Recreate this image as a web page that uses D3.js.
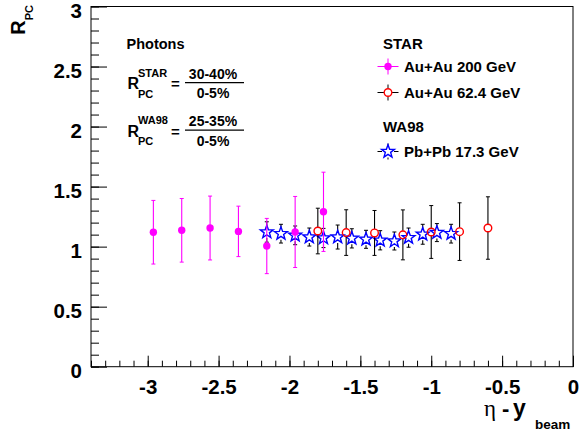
<!DOCTYPE html>
<html>
<head>
<meta charset="utf-8">
<script src="https://cdn.jsdelivr.net/npm/d3@7"></script>
<style>
  body { margin: 0; background: #fff; }
  svg { display: block; }
  text { font-family: "Liberation Sans", Arial, Helvetica, sans-serif; font-weight: bold; fill: #000; }
</style>
</head>
<body>
<svg id="chart" width="581" height="436"></svg>
<script>
// Axis ticks
const xTickValues = [-3, -2.5, -2, -1.5, -1, -0.5, 0];
const yTickValues = [0, 0.5, 1, 1.5, 2, 2.5, 3];

// STAR Au+Au 200 GeV (eta - y_beam, R_PC, stat. error)
const au200X = [-2.96, -2.76, -2.56, -2.36, -2.16, -1.96, -1.76];
const au200Y = [1.12, 1.136, 1.155, 1.127, 1.005, 1.122, 1.29];
const au200E = [0.265, 0.265, 0.266, 0.21, 0.23, 0.296, 0.33];

// STAR Au+Au 62.4 GeV
const au62X = [-1.8, -1.6, -1.4, -1.2, -1.0, -0.8, -0.6];
const au62Y = [1.13, 1.117, 1.114, 1.098, 1.122, 1.125, 1.155];
const au62E = [0.19, 0.19, 0.187, 0.208, 0.22, 0.24, 0.26];

// WA98 Pb+Pb 17.3 GeV
const wa98X = [-2.16, -2.06, -1.96, -1.86, -1.76, -1.66, -1.56, -1.46, -1.36, -1.26, -1.16, -1.06, -0.96, -0.86];
const wa98Y = [1.122, 1.108, 1.094, 1.08, 1.072, 1.08, 1.069, 1.061, 1.053, 1.047, 1.075, 1.103, 1.117, 1.108];
const wa98E = [0.085, 0.078, 0.078, 0.075, 0.08, 0.1, 0.08, 0.075, 0.08, 0.075, 0.08, 0.083, 0.075, 0.078];

const frame = { left: 91, right: 573, top: 6.5, bottom: 366.7 };
const svg = d3.select("#chart");

const x = d3.scaleLinear().domain([-3.4, 0]).range([frame.left, frame.right]);
const y = d3.scaleLinear().domain([0, 3]).range([frame.bottom, frame.top]);

const fmt = d => String(d);

// ---- axes: ticks point inward, minor ticks every 0.1 ----
const gxMinor = svg.append("g").attr("transform", `translate(0,${frame.bottom})`)
  .call(d3.axisBottom(x).tickValues(x.ticks(34)).tickSize(-6).tickFormat(""));
const gx = svg.append("g").attr("transform", `translate(0,${frame.bottom})`)
  .call(d3.axisBottom(x).tickValues(xTickValues).tickSize(-11).tickPadding(12.5).tickFormat(fmt));
const gyMinor = svg.append("g").attr("transform", `translate(${frame.left},0)`)
  .call(d3.axisLeft(y).tickValues(y.ticks(30)).tickSize(-8).tickFormat(""));
const gy = svg.append("g").attr("transform", `translate(${frame.left},0)`)
  .call(d3.axisLeft(y).tickValues(yTickValues).tickSize(-16).tickPadding(9).tickFormat(fmt));

[gxMinor, gx, gyMinor, gy].forEach(g => {
  g.select(".domain").remove();
  g.attr("font-family", null).attr("font-size", null);
  g.selectAll("line").attr("stroke", "#000").attr("stroke-width", 1);
});
gx.selectAll("text").style("font-size", "20.5px");
gy.selectAll("text").style("font-size", "20.5px").attr("dy", "0.52em");

// frame box
svg.append("rect")
  .attr("x", frame.left).attr("y", frame.top)
  .attr("width", frame.right - frame.left).attr("height", frame.bottom - frame.top)
  .attr("fill", "none").attr("stroke", "#000").attr("stroke-width", 1);

// axis titles
const xt = svg.append("text").attr("y", 416);
xt.append("tspan").attr("x", 484).style("font-family", "'Liberation Serif', 'Times New Roman', serif")
  .style("font-weight", "normal").style("font-size", "23px").text("η");
xt.append("tspan").attr("x", 502).style("font-size", "22px").text("-");
xt.append("tspan").attr("x", 513).style("font-size", "23px").text("y");
xt.append("tspan").attr("x", 535).attr("dy", 13).style("font-size", "13.5px").text("beam");

const yt = svg.append("text").attr("transform", "translate(25,5) rotate(-90)").attr("text-anchor", "end");
yt.append("tspan").style("font-size", "20px").text("R");
yt.append("tspan").style("font-size", "11px").attr("dy", 8).text("PC");

// ---- markers ----
function starPath(cx, cy, ro, ri) {
  const p = d3.path();
  for (let i = 0; i < 10; i++) {
    const r = i % 2 === 0 ? ro : ri;
    const a = -Math.PI / 2 + i * Math.PI / 5;
    const px = cx + r * Math.cos(a), py = cy + r * Math.sin(a);
    if (i === 0) p.moveTo(px, py); else p.lineTo(px, py);
  }
  p.closePath();
  return p.toString();
}

// vertical error bar with small end caps, leaving a gap of `gap` px around the marker
function errorBars(g, xs, ys, es, color, gap) {
  xs.forEach((xv, i) => {
    const cx = x(xv), cy = y(ys[i]);
    const yTop = y(ys[i] + es[i]), yBot = y(ys[i] - es[i]);
    const segs = [];
    if (cy - gap > yTop) segs.push([yTop, cy - gap]);
    if (cy + gap < yBot) segs.push([cy + gap, yBot]);
    segs.forEach(s => g.append("line").attr("x1", cx).attr("x2", cx).attr("y1", s[0]).attr("y2", s[1])
      .attr("stroke", color).attr("stroke-width", 1.1));
    [yTop, yBot].forEach(yy => g.append("line").attr("x1", cx - 2).attr("x2", cx + 2)
      .attr("y1", yy).attr("y2", yy).attr("stroke", color).attr("stroke-width", 1));
  });
}

const plot = svg.append("g");

// WA98 open stars
errorBars(plot, wa98X, wa98Y, wa98E, "#000", 6);
plot.selectAll(".wa98").data(wa98X).join("path")
  .attr("d", (d, i) => starPath(x(d), y(wa98Y[i]), 6.8, 2.8))
  .attr("fill", "none").attr("stroke", "#0000ff").attr("stroke-width", 1.4);

// STAR 62.4 GeV open circles
errorBars(plot, au62X, au62Y, au62E, "#000", 4);
plot.selectAll(".au62").data(au62X).join("circle")
  .attr("cx", d => x(d)).attr("cy", (d, i) => y(au62Y[i])).attr("r", 3.8)
  .attr("fill", "none").attr("stroke", "#ff0000").attr("stroke-width", 1.4);

// STAR 200 GeV filled circles
errorBars(plot, au200X, au200Y, au200E, "#ff00ff", 0);
plot.selectAll(".au200").data(au200X).join("circle")
  .attr("cx", d => x(d)).attr("cy", (d, i) => y(au200Y[i])).attr("r", 3.7)
  .attr("fill", "#ff00ff");

// ---- definitions block ----
function ratioBlock(dy, sup, num, den) {
  const g = svg.append("g").attr("transform", `translate(0,${dy})`);
  g.append("text").attr("x", 127.5).attr("y", 89).style("font-size", "16px").text("R");
  g.append("text").attr("x", 138).attr("y", 76.5).style("font-size", "11px").text(sup);
  g.append("text").attr("x", 138).attr("y", 97.5).style("font-size", "11px").text("PC");
  g.append("text").attr("x", 171).attr("y", 89).style("font-size", "15px").text("=");
  g.append("text").attr("x", 213).attr("y", 78.5).attr("text-anchor", "middle").style("font-size", "14px").text(num);
  g.append("line").attr("x1", 185).attr("x2", 244).attr("y1", 82.7).attr("y2", 82.7)
    .attr("stroke", "#000").attr("stroke-width", 1.3);
  g.append("text").attr("x", 213).attr("y", 98).attr("text-anchor", "middle").style("font-size", "14px").text(den);
}
svg.append("text").attr("x", 126.5).attr("y", 49).style("font-size", "14.5px").text("Photons");
ratioBlock(0, "STAR", "30-40%", "0-5%");
ratioBlock(47.5, "WA98", "25-35%", "0-5%");

// ---- legend ----
const lx = 388;
svg.append("text").attr("x", 383).attr("y", 48.5).style("font-size", "15px").text("STAR");
svg.append("text").attr("x", 383).attr("y", 132).style("font-size", "15px").text("WA98");

function legendCross(cy, color, gap) {
  const g = svg.append("g");
  [[lx - 10.5, lx - gap], [lx + gap, lx + 10.5]].forEach(s => g.append("line")
    .attr("x1", s[0]).attr("x2", s[1]).attr("y1", cy).attr("y2", cy).attr("stroke", color));
  [[cy - 8, cy - gap], [cy + gap, cy + 8]].forEach(s => g.append("line")
    .attr("x1", lx).attr("x2", lx).attr("y1", s[0]).attr("y2", s[1]).attr("stroke", color));
  return g;
}
legendCross(66.5, "#ff00ff", 0).append("circle").attr("cx", lx).attr("cy", 66.5).attr("r", 3.7).attr("fill", "#ff00ff");
svg.append("text").attr("x", 404).attr("y", 72).style("font-size", "15px").text("Au+Au 200 GeV");
legendCross(92.5, "#000", 4).append("circle").attr("cx", lx).attr("cy", 92.5).attr("r", 3.8)
  .attr("fill", "none").attr("stroke", "#ff0000").attr("stroke-width", 1.4);
svg.append("text").attr("x", 404).attr("y", 98).style("font-size", "15px").text("Au+Au 62.4 GeV");
legendCross(151.5, "#000", 6).append("path").attr("d", starPath(lx, 151.5, 6.8, 2.8))
  .attr("fill", "none").attr("stroke", "#0000ff").attr("stroke-width", 1.4);
svg.append("text").attr("x", 404).attr("y", 157).style("font-size", "15px").text("Pb+Pb 17.3 GeV");
</script>
</body>
</html>
